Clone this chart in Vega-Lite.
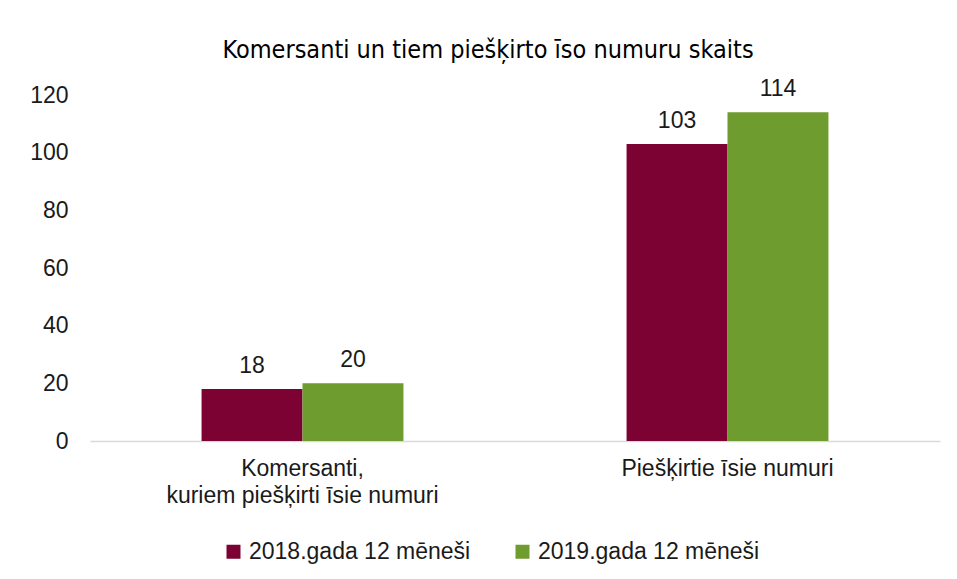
{
  "$schema": "https://vega.github.io/schema/vega-lite/v6.json",
  "width": 850,
  "height": 346,
  "autosize": {"type": "none"},
  "padding": {"left": 90, "top": 95, "right": 17, "bottom": 138},
  "background": "white",
  "config": {"view": {"stroke": null}},
  "title": {
    "text": "Komersanti un tiem piešķirto īso numuru skaits",
    "font": "DejaVu Sans Condensed, Liberation Sans",
    "fontSize": 25,
    "fontWeight": "normal",
    "color": "#000000",
    "anchor": "middle",
    "frame": "group",
    "dx": -27,
    "offset": 15
  },
  "data": {
    "values": [
      {"kategorija": "Komersanti,\nkuriem piešķirti īsie numuri", "periods": "2018.gada 12 mēneši", "vertiba": 18},
      {"kategorija": "Komersanti,\nkuriem piešķirti īsie numuri", "periods": "2019.gada 12 mēneši", "vertiba": 20},
      {"kategorija": "Piešķirtie īsie numuri", "periods": "2018.gada 12 mēneši", "vertiba": 103},
      {"kategorija": "Piešķirtie īsie numuri", "periods": "2019.gada 12 mēneši", "vertiba": 114}
    ]
  },
  "encoding": {
    "x": {
      "field": "kategorija",
      "type": "nominal",
      "sort": null,
      "scale": {"paddingInner": 0.525, "paddingOuter": 0.2625},
      "axis": {
        "title": null,
        "labelAngle": 0,
        "labelExpr": "split(datum.label, '\\n')",
        "labelLimit": 0,
        "labelFont": "Liberation Sans",
        "labelFontSize": 23,
        "labelColor": "#1a1a1a",
        "labelLineHeight": 27,
        "labelPadding": 16,
        "ticks": false,
        "domainColor": "#d9d9d9",
        "domainWidth": 1.5,
        "grid": false
      }
    },
    "xOffset": {"field": "periods", "type": "nominal", "sort": null},
    "y": {
      "field": "vertiba",
      "type": "quantitative",
      "scale": {"domain": [0, 120]},
      "axis": {
        "title": null,
        "values": [0, 20, 40, 60, 80, 100, 120],
        "domain": false,
        "ticks": false,
        "grid": false,
        "labelFont": "Liberation Sans",
        "labelFontSize": 23,
        "labelColor": "#1a1a1a",
        "labelPadding": 22
      }
    }
  },
  "layer": [
    {
      "mark": {"type": "bar"},
      "encoding": {
        "color": {
          "field": "periods",
          "type": "nominal",
          "sort": null,
          "scale": {"range": ["#7B0232", "#6F9C2F"]},
          "legend": {
            "title": null,
            "orient": "none",
            "legendX": 132,
            "legendY": 445,
            "direction": "horizontal",
            "symbolType": "square",
            "symbolSize": 196,
            "symbolStrokeWidth": 0,
            "labelFont": "Liberation Sans",
            "labelFontSize": 23,
            "labelColor": "#1a1a1a",
            "labelLimit": 0,
            "columnPadding": 40,
            "labelOffset": 4
          }
        }
      }
    },
    {
      "mark": {"type": "text", "baseline": "bottom", "dy": -11, "font": "Liberation Sans", "fontSize": 23, "color": "#1a1a1a"},
      "encoding": {
        "text": {"field": "vertiba", "type": "quantitative"}
      }
    }
  ]
}
